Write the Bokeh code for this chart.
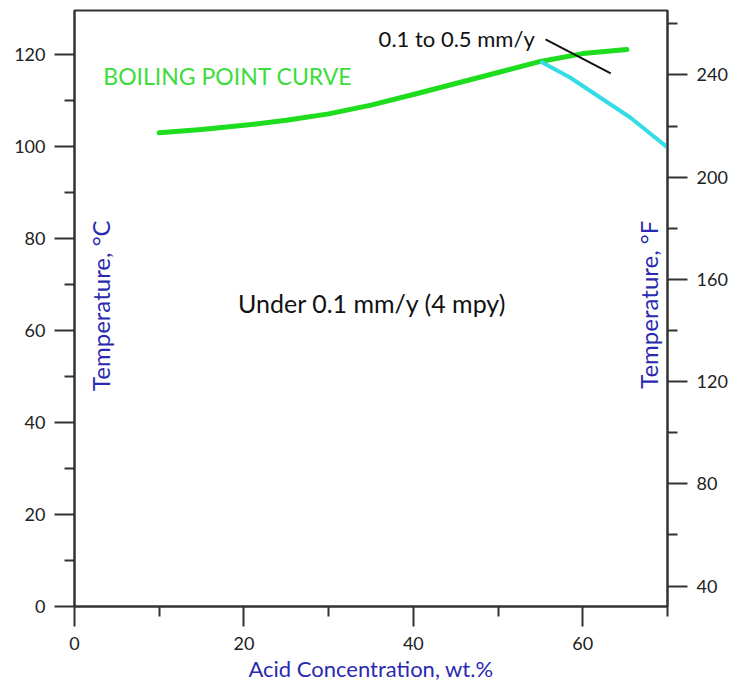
from bokeh.plotting import figure
from bokeh.models import Range1d, LinearAxis, FixedTicker
from bokeh.embed import file_html
from bokeh.resources import INLINE
from bokeh.core.properties import value

# Boiling point curve (acid concentration wt.% vs temperature °C)
bp_conc = [10, 15, 20, 25, 30, 35, 40, 45, 50, 55, 60, 65.2]
bp_temp = [103.0, 103.7, 104.6, 105.7, 107.1, 109.0, 111.3, 113.7, 116.1, 118.5, 120.2, 121.1]

# Iso-corrosion line 0.1 mm/y
iso_conc = [55, 58.5, 65.6, 70]
iso_temp = [118.5, 115.0, 106.3, 99.8]

# Leader line for the 0.1 to 0.5 mm/y label
lead_conc = [55.6, 63.3]
lead_temp = [123.3, 115.9]

x_major = [0, 20, 40, 60]
x_minor = [10, 30, 50, 70]
c_major = [0, 20, 40, 60, 80, 100, 120]
c_minor = [10, 30, 50, 70, 90, 110]
f_major = [40, 80, 120, 160, 200, 240]
f_minor = [60, 100, 140, 180, 220, 260]

C_MAX = 129.57
FONT = "Lato"
BLUE = "#2a2ab0"

p = figure(width=730, height=686, output_backend="svg", toolbar_location=None,
           x_range=Range1d(0, 70), y_range=Range1d(0, C_MAX),
           min_border_left=74, min_border_right=60, min_border_top=10, min_border_bottom=80)
p.grid.visible = False
p.outline_line_color = "#333333"
p.outline_line_width = 2
p.background_fill_color = "white"

p.extra_y_ranges = {"F": Range1d(32, C_MAX * 1.8 + 32)}

def style(ax, major, minor):
    ax.ticker = FixedTicker(ticks=major, minor_ticks=minor)
    ax.axis_line_color = "#333333"
    ax.axis_line_width = 2
    ax.major_tick_line_color = "#333333"
    ax.major_tick_line_width = 2
    ax.minor_tick_line_color = "#333333"
    ax.minor_tick_line_width = 2
    ax.major_tick_in = 0
    ax.minor_tick_in = 0
    ax.major_tick_out = 20
    ax.minor_tick_out = 10
    ax.major_label_text_font = FONT
    ax.major_label_text_font_size = "18px"
    ax.major_label_text_color = "#222222"

xa = p.xaxis[0]
style(xa, x_major, x_minor)
xa.major_label_standoff = 10
xa.axis_label = "Acid Concentration, wt.%"
xa.axis_label_text_font = FONT
xa.axis_label_text_font_size = "22px"
xa.axis_label_text_font_style = "normal"
xa.axis_label_text_color = BLUE
xa.axis_label_standoff = 2

ya = p.yaxis[0]
style(ya, c_major, c_minor)
ya.major_label_standoff = 9

ra = LinearAxis(y_range_name="F")
style(ra, f_major, f_minor)
ra.major_label_standoff = 9
p.add_layout(ra, "right")

p.line(bp_conc, bp_temp, line_color="#1edc1e", line_width=5, line_cap="round", line_join="round")
p.line(iso_conc, iso_temp, line_color="#33dde3", line_width=4, line_join="round")
p.line(lead_conc, lead_temp, line_color="#111111", line_width=2)

p.text(x=[35.9], y=[123.5], text=["0.1 to 0.5 mm/y"], text_font=value(FONT),
       text_font_size="22px", text_color="#111111", text_align="left", text_baseline="middle")
p.text(x=[3.4], y=[115.4], text=["BOILING POINT CURVE"], text_font=value(FONT),
       text_font_size="23px", text_color="#3ddc3d", text_align="left", text_baseline="middle")
p.text(x=[19.3], y=[65.9], text=["Under 0.1 mm/y (4 mpy)"], text_font=value(FONT),
       text_font_size="25px", text_color="#111111", text_align="left", text_baseline="middle")
p.text(x=[3.05], y=[65.4], text=["Temperature, °C"], text_font=value(FONT), angle=1.5708,
       text_font_size="24px", text_color=BLUE, text_align="center", text_baseline="middle")
p.text(x=[67.7], y=[65.6], text=["Temperature, °F"], text_font=value(FONT), angle=1.5708,
       text_font_size="24px", text_color=BLUE, text_align="center", text_baseline="middle")

open("out.html", "w").write(file_html(p, INLINE))
